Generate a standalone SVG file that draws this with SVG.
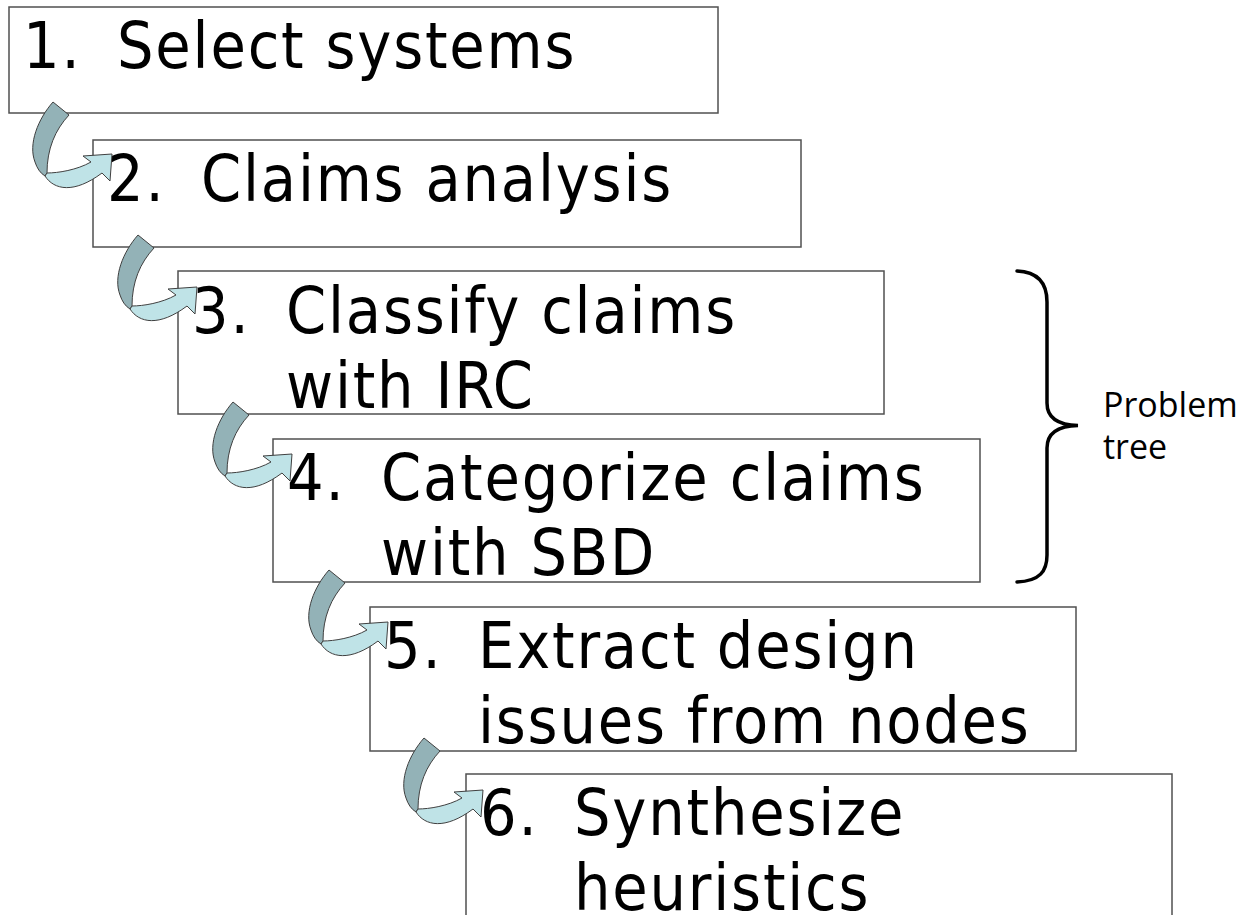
<svg xmlns="http://www.w3.org/2000/svg" width="1255" height="915" viewBox="0 0 1255 915">
<style>
.box{fill:#fff;stroke:#505050;stroke-width:1.5}
.t{font-family:"DejaVu Sans Condensed","DejaVu Sans",sans-serif;font-stretch:condensed;font-size:64px;letter-spacing:1.8px;fill:#000}
.lbl{font-family:"Open Sans","Noto Sans",sans-serif;font-size:34px;fill:#000}
.dark{fill:#93B2B7;stroke:#404040;stroke-width:1}
.light{fill:#BFE3E7;stroke:#404040;stroke-width:1}
.brace{fill:none;stroke:#000;stroke-width:3.5;stroke-linecap:round}
</style>
<defs>
<g id="carrow">
<path class="dark" d="M -59 -52 C -74 -35, -84 -10, -77 8 C -75 14, -72 19, -67 22 L -65 19 C -65 -5, -57 -24, -43 -39 Z"/>
<path class="light" d="M -67 22 C -58 36, -38 40, -10 19 L -2 27 L 0 0 L -29 2 L -21 8 C -35 16, -54 19, -65 19 Z"/>
</g>
</defs>
<rect width="1255" height="915" fill="#fff"/>
<g id="node1">
<rect class="box" x="9" y="7" width="709" height="106"/>
<text class="t" x="23" y="68">1.</text>
<text class="t" x="117" y="68">Select systems</text>
</g>
<g id="node2">
<rect class="box" x="93" y="140" width="708" height="107"/>
<text class="t" x="107" y="201">2.</text>
<text class="t" x="201" y="201">Claims analysis</text>
</g>
<g id="node3">
<rect class="box" x="178" y="271" width="706" height="143"/>
<text class="t" x="192" y="333">3.</text>
<text class="t" x="286" y="333">Classify claims</text>
<text class="t" x="286" y="408">with IRC</text>
</g>
<g id="node4">
<rect class="box" x="273" y="439" width="707" height="143"/>
<text class="t" x="287" y="500">4.</text>
<text class="t" x="381" y="500">Categorize claims</text>
<text class="t" x="381" y="575">with SBD</text>
</g>
<g id="node5">
<rect class="box" x="370" y="607" width="706" height="144"/>
<text class="t" x="384" y="668">5.</text>
<text class="t" x="478" y="668">Extract design</text>
<text class="t" x="478" y="743">issues from nodes</text>
</g>
<g id="node6">
<rect class="box" x="466" y="774" width="706" height="170"/>
<text class="t" x="480" y="835">6.</text>
<text class="t" x="574" y="835">Synthesize</text>
<text class="t" x="574" y="910">heuristics</text>
</g>
<g id="brace">
<path class="brace" d="M 1017 271 C 1040 272, 1047 285, 1047 302 L 1047 403 C 1047 418, 1058 425, 1078 425.5 C 1058 426, 1047 433, 1047 448 L 1047 555 C 1047 571, 1040 581, 1017 582"/>
<text class="lbl" x="1103" y="417">Problem</text>
<text class="lbl" x="1103" y="459">tree</text>
</g>
<g id="connectors">
<use href="#carrow" transform="translate(112,154)"/>
<use href="#carrow" transform="translate(197,287)"/>
<use href="#carrow" transform="translate(292,454)"/>
<use href="#carrow" transform="translate(388,622)"/>
<use href="#carrow" transform="translate(483,790)"/>
</g>
</svg>
